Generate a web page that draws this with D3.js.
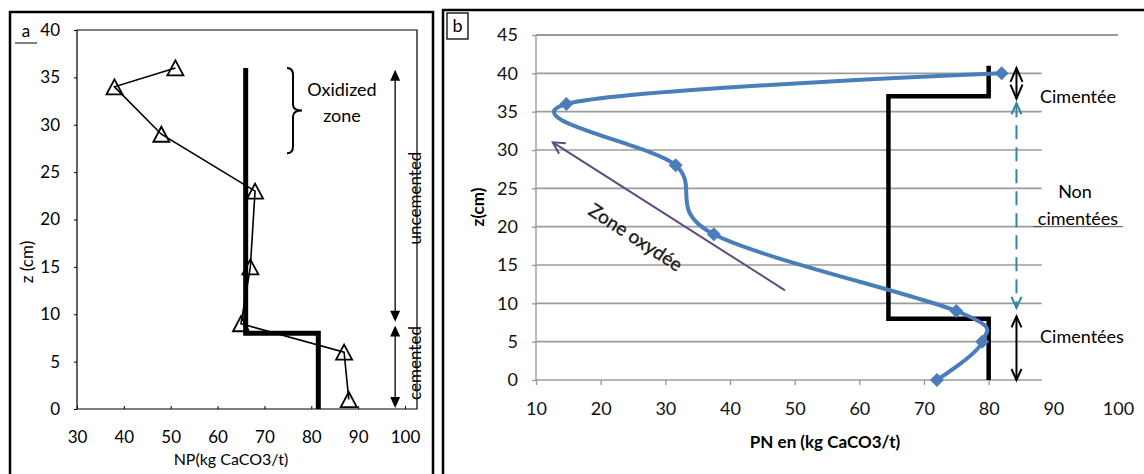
<!DOCTYPE html>
<html><head><meta charset="utf-8">
<script src="https://cdn.jsdelivr.net/npm/d3@7/dist/d3.min.js"></script>
<style>
html,body{margin:0;padding:0;background:#fff;}
svg{display:block;}
text{font-family:Lato,"Open Sans",sans-serif;}
</style></head>
<body>
<svg id="chart" width="1144" height="474"></svg>
<script>
// ---------- DATA ----------
// Panel a
const npA = [51, 38, 48, 68, 67, 65, 87, 88];
const zA  = [36, 34, 29, 23, 15, 9, 6, 1];
const stepANP = [66, 66, 81.5, 81.5];
const stepAZ  = [36, 8, 8, 0];
const xTicksA = [30, 40, 50, 60, 70, 80, 90, 100];
const yTicksA = [0, 5, 10, 15, 20, 25, 30, 35, 40];
const arrowUncementedA = [35.8, 9.2];
const arrowCementedA = [8.8, 0.1];
const arrowNPA = 97.9;
// Panel b
const pnB = [82, 14.7, 31.6, 37.5, 75, 79, 72];
const zB  = [40, 36, 28, 19, 9, 5, 0];
const stepBPN = [80, 80, 64.5, 64.5, 80, 80];
const stepBZ  = [41, 37, 37, 8, 8, 0];
const xTicksB = [10, 20, 30, 40, 50, 60, 70, 80, 90, 100];
const yTicksB = [0, 5, 10, 15, 20, 25, 30, 35, 40, 45];
const oxydeeFrom = [48.5, 11.7];
const oxydeeTo = [12.6, 31];
const arrowCimenteeB = [40.7, 36.7];
const arrowNonB = [36.1, 9.4];
const arrowCimenteesB = [8.3, 0];
const arrowPNB = 84.3;

const svg = d3.select("#chart");

// ---------- PANEL A ----------
const xA = d3.scaleLinear().domain([30, 100]).range([77, 405]);
const yA = d3.scaleLinear().domain([0, 40]).range([409, 30]);
const gA = svg.append("g");

gA.append("path").attr("d", "M10,474 L10,12 L433,12 L433,474")
  .attr("fill", "none").attr("stroke", "#000").attr("stroke-width", 2.5);
gA.append("text").attr("x", 26).attr("y", 37).attr("text-anchor", "middle")
  .attr("font-size", 17).text("a");
gA.append("line").attr("x1", 15).attr("x2", 37).attr("y1", 43).attr("y2", 43)
  .attr("stroke", "#000").attr("stroke-width", 1);

gA.append("path").attr("d", `M77,${yA(40)} L417,${yA(40)} L417,${yA(0)} L77,${yA(0)} Z`)
  .attr("fill", "none").attr("stroke", "#000").attr("stroke-width", 1.2);

const axA_y = gA.append("g").attr("transform", "translate(77,0)")
  .call(d3.axisLeft(yA).tickValues(yTicksA).tickSize(3).tickPadding(14));
const axA_x = gA.append("g").attr("transform", `translate(0,${yA(0)})`)
  .call(d3.axisBottom(xA).tickValues(xTicksA).tickSize(3).tickPadding(19));
[axA_y, axA_x].forEach(a => {
  a.select(".domain").remove();
  a.selectAll("text").attr("font-size", 17).attr("fill", "#000").attr("font-family", "Lato,sans-serif");
  a.selectAll("line").attr("stroke", "#000");
});
axA_x.selectAll("line").attr("transform", "translate(0,-3)");

gA.append("text").attr("x", 231).attr("y", 465).attr("text-anchor", "middle")
  .attr("font-size", 16).text("NP(kg CaCO3/t)");
gA.append("text").attr("transform", "translate(33,262) rotate(-90)").attr("text-anchor", "middle")
  .attr("font-size", 17).text("z (cm)");

const lineA = d3.line().x(d => xA(d[0])).y(d => yA(d[1]));
gA.append("path").datum(stepANP.map((v, i) => [v, stepAZ[i]]))
  .attr("d", lineA).attr("fill", "none").attr("stroke", "#000")
  .attr("stroke-width", 5).attr("stroke-linejoin", "miter");

const ptsA = npA.map((v, i) => [v, zA[i]]);
gA.append("path").datum(ptsA).attr("d", lineA).attr("fill", "none")
  .attr("stroke", "#000").attr("stroke-width", 1.6);
gA.selectAll(".tri").data(ptsA).join("path")
  .attr("transform", d => `translate(${xA(d[0])},${yA(d[1])})`)
  .attr("d", "M0,-7.5 L8,7.5 L-8,7.5 Z")
  .attr("fill", "none").attr("stroke", "#000").attr("stroke-width", 1.8);

(function () {
  const xl = 287, xb = 293, xt = 302, yt = yA(36), yb = yA(27), ym = (yt + yb) / 2;
  gA.append("path").attr("d",
    `M${xl},${yt} Q${xb},${yt} ${xb},${yt + 7} L${xb},${ym - 6} Q${xb},${ym} ${xt},${ym} Q${xb},${ym} ${xb},${ym + 6} L${xb},${yb - 7} Q${xb},${yb} ${xl},${yb}`)
    .attr("fill", "none").attr("stroke", "#000").attr("stroke-width", 2);
})();
gA.append("text").attr("x", 342).attr("y", 96).attr("text-anchor", "middle")
  .attr("font-size", 18).text("Oxidized");
gA.append("text").attr("x", 342).attr("y", 122).attr("text-anchor", "middle")
  .attr("font-size", 18).text("zone");

function filledDoubleArrow(g, x, y1, y2) {
  g.append("line").attr("x1", x).attr("x2", x).attr("y1", y1 + 8).attr("y2", y2 - 8)
    .attr("stroke", "#000").attr("stroke-width", 1.3);
  g.append("path").attr("d", `M${x},${y1} L${x + 5},${y1 + 11} L${x - 5},${y1 + 11} Z`).attr("fill", "#000");
  g.append("path").attr("d", `M${x},${y2} L${x + 5},${y2 - 11} L${x - 5},${y2 - 11} Z`).attr("fill", "#000");
}
filledDoubleArrow(gA, xA(arrowNPA), yA(arrowUncementedA[0]), yA(arrowUncementedA[1]));
filledDoubleArrow(gA, xA(arrowNPA), yA(arrowCementedA[0]), yA(arrowCementedA[1]));

gA.append("text").attr("transform", "translate(421,198) rotate(-90)").attr("text-anchor", "middle")
  .attr("font-size", 17).text("uncemented");
gA.append("text").attr("transform", "translate(421,363) rotate(-90)").attr("text-anchor", "middle")
  .attr("font-size", 17).text("cemented");

// ---------- PANEL B ----------
const xB = d3.scaleLinear().domain([10, 100]).range([536, 1118]);
const yB = d3.scaleLinear().domain([0, 45]).range([380, 35]);
const gB = svg.append("g");

gB.append("path").attr("d", "M443,474 L443,10 L1144,10")
  .attr("fill", "none").attr("stroke", "#000").attr("stroke-width", 2.5);
gB.append("rect").attr("x", 447).attr("y", 13).attr("width", 21).attr("height", 26)
  .attr("fill", "#fff").attr("stroke", "#000").attr("stroke-width", 1.3);
gB.append("text").attr("x", 457.5).attr("y", 32).attr("text-anchor", "middle")
  .attr("font-size", 18).text("b");

const gridEnd = 88.2;
gB.selectAll(".grid").data(yTicksB.filter(v => v > 0 && v < 45)).join("line")
  .attr("x1", xB(10)).attr("x2", xB(gridEnd))
  .attr("y1", d => yB(d)).attr("y2", d => yB(d))
  .attr("stroke", "#9c9c9c").attr("stroke-width", 1.6);
gB.append("line").attr("x1", xB(10)).attr("x2", xB(100)).attr("y1", yB(45)).attr("y2", yB(45))
  .attr("stroke", "#333").attr("stroke-width", 1);
gB.append("line").attr("x1", xB(10)).attr("x2", xB(gridEnd)).attr("y1", yB(0)).attr("y2", yB(0))
  .attr("stroke", "#9c9c9c").attr("stroke-width", 1.6);
gB.append("line").attr("x1", xB(10)).attr("x2", xB(10)).attr("y1", yB(0)).attr("y2", yB(45))
  .attr("stroke", "#9c9c9c").attr("stroke-width", 1.4);

const axB_y = gB.append("g").attr("transform", `translate(${xB(10)},0)`)
  .call(d3.axisLeft(yB).tickValues(yTicksB).tickSize(4).tickPadding(14));
const axB_x = gB.append("g").attr("transform", `translate(0,${yB(0)})`)
  .call(d3.axisBottom(xB).tickValues(xTicksB.filter(v => v < 90)).tickSize(5).tickPadding(17));
const axB_x2 = gB.append("g").attr("transform", `translate(0,${yB(0)})`)
  .call(d3.axisBottom(xB).tickValues(xTicksB.filter(v => v >= 90)).tickSize(0).tickPadding(22));
[axB_y, axB_x, axB_x2].forEach(a => {
  a.select(".domain").remove();
  a.selectAll("text").attr("font-size", 18).attr("fill", "#111").attr("font-family", "Lato,sans-serif");
  a.selectAll("line").attr("stroke", "#9c9c9c").attr("stroke-width", 1.4);
});

gB.append("text").attr("x", 825).attr("y", 448).attr("text-anchor", "middle")
  .attr("font-size", 17).attr("font-weight", "bold").text("PN en  (kg CaCO3/t)");
gB.append("text").attr("transform", "translate(484,207) rotate(-90)").attr("text-anchor", "middle")
  .attr("font-size", 17).attr("font-weight", "bold").text("z(cm)");

const lineB = d3.line().x(d => xB(d[0])).y(d => yB(d[1]));
gB.append("path").datum(stepBPN.map((v, i) => [v, stepBZ[i]]))
  .attr("d", lineB).attr("fill", "none").attr("stroke", "#000")
  .attr("stroke-width", 4.5).attr("stroke-linejoin", "miter");

(function () {
  const x1 = xB(oxydeeFrom[0]), y1 = yB(oxydeeFrom[1]), x2 = xB(oxydeeTo[0]), y2 = yB(oxydeeTo[1]);
  const ang = Math.atan2(y2 - y1, x2 - x1), L = 13, w = 0.5;
  gB.append("line").attr("x1", x1).attr("y1", y1).attr("x2", x2).attr("y2", y2)
    .attr("stroke", "#604a7b").attr("stroke-width", 2);
  gB.append("path").attr("d",
    `M${x2 - L * Math.cos(ang - w)},${y2 - L * Math.sin(ang - w)} L${x2},${y2} L${x2 - L * Math.cos(ang + w)},${y2 - L * Math.sin(ang + w)}`)
    .attr("fill", "none").attr("stroke", "#604a7b").attr("stroke-width", 2);
})();
gB.append("text").attr("transform", "translate(632,243) rotate(33)").attr("text-anchor", "middle")
  .attr("font-size", 19).attr("fill", "#1a1a1a").attr("stroke", "#1a1a1a").attr("stroke-width", 0.35)
  .text("Zone oxydée");

const ptsB = pnB.map((v, i) => [v, zB[i]]);
gB.append("path").datum(ptsB).attr("d", lineB.curve(d3.curveCardinal.tension(0)))
  .attr("fill", "none").attr("stroke", "#4a7ebb").attr("stroke-width", 4);
gB.selectAll(".dia").data(ptsB).join("path")
  .attr("transform", d => `translate(${xB(d[0])},${yB(d[1])})`)
  .attr("d", "M0,-7 L7,0 L0,7 L-7,0 Z").attr("fill", "#4a7ebb");

function openDoubleArrow(g, x, y1, y2, color, dash, head) {
  g.append("line").attr("x1", x).attr("x2", x).attr("y1", y1).attr("y2", y2)
    .attr("stroke", color).attr("stroke-width", 2).attr("stroke-dasharray", dash || null);
  g.append("path").attr("d", `M${x - head[0]},${y1 + head[1]} L${x},${y1} L${x + head[0]},${y1 + head[1]}`)
    .attr("fill", "none").attr("stroke", color).attr("stroke-width", 2);
  g.append("path").attr("d", `M${x - head[0]},${y2 - head[1]} L${x},${y2} L${x + head[0]},${y2 - head[1]}`)
    .attr("fill", "none").attr("stroke", color).attr("stroke-width", 2);
}
const axPx = xB(arrowPNB);
openDoubleArrow(gB, axPx, yB(arrowCimenteeB[0]), yB(arrowCimenteeB[1]), "#000", null, [6, 14]);
openDoubleArrow(gB, axPx, yB(arrowNonB[0]), yB(arrowNonB[1]), "#31859c", "14,8", [5, 11]);
openDoubleArrow(gB, axPx, yB(arrowCimenteesB[0]), yB(arrowCimenteesB[1]), "#000", null, [5, 11]);

gB.append("text").attr("x", 1078).attr("y", 103).attr("text-anchor", "middle")
  .attr("font-size", 18).text("Cimentée");
gB.append("text").attr("x", 1075).attr("y", 198).attr("text-anchor", "middle")
  .attr("font-size", 18).text("Non");
gB.append("text").attr("x", 1078).attr("y", 225).attr("text-anchor", "middle")
  .attr("font-size", 18).text("cimentées");
gB.append("line").attr("x1", 1033).attr("x2", 1123).attr("y1", yB(20)).attr("y2", yB(20))
  .attr("stroke", "#555").attr("stroke-width", 1);
gB.append("text").attr("x", 1082).attr("y", 343).attr("text-anchor", "middle")
  .attr("font-size", 18).text("Cimentées");
</script>
</body></html>
